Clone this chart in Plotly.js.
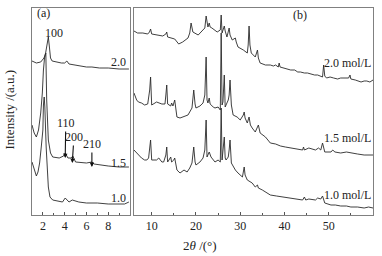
<!DOCTYPE html>
<html><head><meta charset="utf-8">
<script src="https://cdn.plot.ly/plotly-3.0.1.min.js"></script>
<style>html,body{margin:0;padding:0;background:#fff}#c{width:382px;height:256px}</style>
</head><body><div id="c"></div>
<script>
// Panel (a): small-angle XRD, 2θ (°) vs intensity (a.u., offset stacked)
const aX20 = [1.0,1.4,1.8,2.1,2.25,2.4,2.5,2.6,2.7,2.85,3.2,3.7,4.0,4.2,4.4,5.0,5.5,6.0,6.5,7.2,8.0,9.0,9.9];
const aY20 = [154,152,153,157,162,170,178,168,157,154,153,152,152,154,151,150,149,148,148,147,147,146,146];
const aX15 = [1.0,1.2,1.4,1.6,1.8,1.95,2.05,2.15,2.27,2.35,2.5,2.7,2.9,3.5,3.9,4.05,4.3,4.6,4.75,5.0,6.0,6.5,6.7,7.2,8.0,9.0,9.9];
const aY15 = [90,82,78,85,102,122,145,157,162,115,75,62,58,57,59,62,57,57,59,53,52,53,51,50,49,48,48];
const aX10 = [1.0,1.2,1.4,1.55,1.7,1.85,2.0,2.05,2.12,2.18,2.3,2.5,2.65,2.9,3.4,3.8,4.05,4.4,4.7,5.3,6.0,7.0,8.0,9.0,9.5,9.9];
const aY10 = [53,45,39,43,52,68,85,110,118,108,68,28,18,15,14,13,17,13,15,13,12,12,11,11,11,13];

// Panel (b): wide-angle XRD
const bX20 = [6.0,6.8,8.0,9.1,9.5,9.75,10.0,11.1,12.5,13.2,13.4,13.6,14.8,15.2,16.1,17.0,18.2,18.6,18.9,19.1,19.3,20.5,21.6,22.0,22.3,22.5,22.7,23.0,23.2,23.6,24.8,25.5,25.7,25.9,26.4,26.6,27.0,27.5,27.7,28.2,28.9,29.1,29.5,30.7,31.6,31.8,32.0,32.2,32.5,33.4,33.9,34.1,34.5,35.7,36.8,37.5,38.0,38.6,38.8,39.0,39.8,40.5,41.4,42.3,43.0,43.6,44.5,45.2,45.9,46.8,47.5,48.2,48.6,48.85,49.1,49.5,50.3,51.1,52.0,52.7,53.5,54.5,54.8,55.0,56.0,57.3,58.0,58.6,59.3,60.0];
const bY20 = [184,182,182,181,183,186,181,180,179,181,183,178,177,176,171,173,177,182,192,187,183,180,185,187,199,190,188,192,188,187,183,185,200,182,189,184,178,187,180,175,177,173,168,165,162,170,189,170,162,158,165,157,152,150,150,149,150,148,152,148,147,146,145,145,143,143,142,142,141,140,140,139,138,150,139,137,138,137,136,137,137,137,140,136,135,133,134,134,133,135];
const bX15 = [6.0,6.6,7.0,7.7,8.4,9.1,9.55,9.75,10.0,11.1,12.3,13.0,13.2,13.4,13.6,14.3,14.5,14.8,15.2,15.5,15.7,16.4,17.0,18.2,19.1,19.3,19.5,19.8,20.0,20.9,21.6,22.0,22.3,22.5,22.7,23.0,23.2,23.9,24.3,25.0,25.5,25.7,25.9,26.1,26.4,26.6,27.3,27.5,27.7,28.0,28.4,29.3,30.0,30.7,30.9,31.1,31.6,32.0,32.3,32.7,33.4,34.1,34.3,34.5,35.7,36.8,38.0,39.1,40.2,41.4,42.8,44.1,44.3,44.5,45.5,47.0,47.7,48.2,48.6,48.9,49.1,50.5,50.9,51.4,52.7,54.0,55.0,56.5,58.0,60.0];
const bY15 = [122,115,113,112,110,111,125,138,110,113,111,111,120,130,111,109,112,109,115,103,98,97,98,100,107,115,125,111,107,109,112,120,158,115,112,117,111,108,107,108,105,182,110,113,140,108,115,120,135,110,100,98,95,100,103,97,92,98,90,87,83,90,84,82,78,72,71,69,68,67,66,65,68,65,67,65,67,65,72,67,63,63,65,63,62,63,62,61,60,60];
const bX10 = [6.0,6.4,7.0,7.7,8.4,8.9,9.3,9.55,9.75,10.0,11.1,11.6,12.3,12.7,13.2,13.4,13.6,13.9,14.3,14.5,15.0,15.2,15.7,16.4,17.3,18.0,18.6,19.1,19.3,19.5,19.8,20.0,20.9,21.6,22.0,22.3,22.5,23.0,23.4,24.3,25.0,25.5,25.7,25.9,26.4,26.6,26.8,27.3,27.5,27.7,28.0,28.9,29.5,30.5,30.7,30.9,31.1,31.6,32.7,33.4,33.9,34.1,35.0,35.7,36.8,38.2,39.8,41.8,43.0,44.1,44.5,44.8,45.5,47.0,47.5,48.2,48.6,48.9,49.1,50.5,51.5,52.7,54.0,55.0,56.5,58.0,59.0,60.0];
const bY10 = [65,63,60,57,55,55,57,67,75,55,55,57,53,53,60,68,53,55,58,53,55,57,45,42,45,43,47,52,60,68,53,50,53,57,65,95,58,63,58,53,55,53,107,55,78,57,55,58,65,75,52,45,42,38,43,48,40,35,32,28,30,27,25,23,20,19,18,16,16,15,18,15,16,15,17,16,19,15,12,10,10,9,9,8,8,7,8,7];

const serif = '"Liberation Serif", "Times New Roman", serif';

const traces = [
  {x:aX20, y:aY20, xaxis:'x', yaxis:'y'},
  {x:aX15, y:aY15, xaxis:'x', yaxis:'y'},
  {x:aX10, y:aY10, xaxis:'x', yaxis:'y'},
  {x:bX20, y:bY20, xaxis:'x2', yaxis:'y2'},
  {x:bX15, y:bY15, xaxis:'x2', yaxis:'y2'},
  {x:bX10, y:bY10, xaxis:'x2', yaxis:'y2'}
].map(t => Object.assign(t, {type:'scatter', mode:'lines', line:{color:'#2a2a2a', width:0.9}, hoverinfo:'skip', showlegend:false}));

function frame() { return {showline:true, linecolor:'#808080', linewidth:1, mirror:true, showgrid:false, zeroline:false}; }
function xTick() { return {ticks:'inside', ticklen:3, tickwidth:1, tickcolor:'#555', tickfont:{family:serif, size:12, color:'#222'}}; }
function fnt(s) { return {family:serif, size:s||12, color:'#222'}; }
function lab(text, x, y, xr, yr, xanchor) {
  return {text:text, x:x, y:y, xref:xr, yref:yr, showarrow:false, font:fnt(), xanchor:xanchor||'center', yanchor:'middle'};
}
function arrLab(text, tx, ty, x, y) {
  return {text:text, x:x, y:y, ax:tx, ay:ty, xref:'x', yref:'y', axref:'x', ayref:'y', showarrow:true,
          arrowhead:2, arrowsize:0.8, arrowwidth:1.1, arrowcolor:'#111', standoff:0, startstandoff:0, font:fnt()};
}

const layout = {
  width:382, height:256,
  margin:{l:32, r:9, t:8, b:41},
  paper_bgcolor:'#fff', plot_bgcolor:'#fff',
  xaxis: Object.assign({domain:[0,0.2874], range:[1,10], tickvals:[2,4,6,8], minor:{ticks:'inside', ticklen:2, tickvals:[3,5,7,9], tickcolor:'#555'}}, frame(), xTick(), {anchor:'y'}),
  yaxis: Object.assign({range:[0,207], showticklabels:false, ticks:'', anchor:'x'}, frame()),
  xaxis2: Object.assign({domain:[0.2991,1], range:[6,60], tickvals:[10,20,30,40,50], minor:{ticks:'inside', ticklen:2, tickvals:[15,25,35,45,55], tickcolor:'#555'}}, frame(), xTick(), {anchor:'y2'}),
  yaxis2: Object.assign({range:[0,207], showticklabels:false, ticks:'', anchor:'x2'}, frame()),
  annotations: [
    lab('(a)', 2.1, 202, 'x', 'y'),
    lab('100', 3.0, 182, 'x', 'y'),
    lab('2.0', 9.85, 153, 'x', 'y', 'right'),
    arrLab('110', 4.1, 92, 4.05, 57),
    arrLab('200', 4.85, 78, 4.7, 52),
    arrLab('210', 6.5, 71, 6.5, 48),
    lab('1.5', 9.85, 52, 'x', 'y', 'right'),
    lab('1.0', 9.85, 17, 'x', 'y', 'right'),
    lab('(b)', 43.6, 200, 'x2', 'y2'),
    lab('2.0 mol/L', 60, 152, 'x2', 'y2', 'right'),
    lab('1.5 mol/L', 60, 77, 'x2', 'y2', 'right'),
    lab('1.0 mol/L', 60, 20, 'x2', 'y2', 'right'),
    {text:'Intensity /(a.u.)', x:-0.067, y:0.51, xref:'paper', yref:'paper', textangle:-90, showarrow:false, font:fnt(13), xanchor:'center', yanchor:'middle'},
    {text:'2<i>θ</i> /(°)', x:0.4927, y:-0.145, xref:'paper', yref:'paper', showarrow:false, font:fnt(13), xanchor:'center', yanchor:'middle'}
  ]
};

Plotly.newPlot('c', traces, layout, {staticPlot:true, displayModeBar:false});
</script></body></html>
